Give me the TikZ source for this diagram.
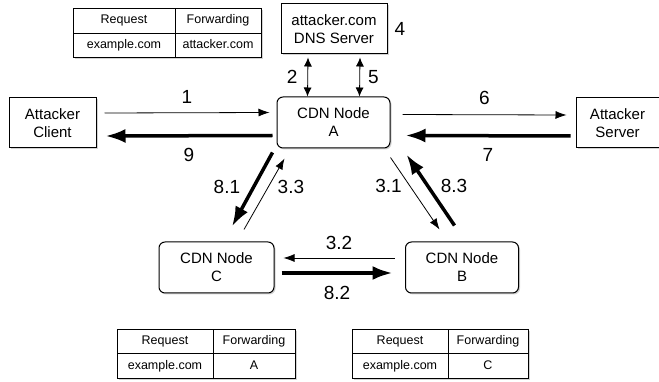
\documentclass[tikz,border=0pt]{standalone}
\usepackage{fontspec}
\setmainfont{Liberation Sans}
\usetikzlibrary{positioning,shadows,arrows.meta}

\tikzset{
  shade box/.style={drop shadow={shadow xshift=1.5pt,shadow yshift=-1.5pt,opacity=.35}},
  box/.style={draw,line width=1pt,fill=white,align=center,inner sep=0pt,
    font=\fontsize{15}{18}\selectfont,shade box},
  cdn/.style={box,rounded corners=6pt,minimum width=113pt,minimum height=51pt},
  cell/.style={draw,line width=.9pt,fill=white,inner sep=0pt,outer sep=0pt,
    minimum height=24.5pt,text height=9pt,text depth=2.5pt,
    font=\fontsize{12.5}{14}\selectfont,shade box},
  msg/.style={line width=.8pt,-{Latex[length=11pt,width=8pt]}},
  reply/.style={line width=3.5pt,-{Latex[length=20pt,width=14pt]}},
  query/.style={line width=.8pt,{Latex[length=9pt,width=8pt]}-{Latex[length=9pt,width=8pt]}},
  lbl/.style={font=\fontsize{19}{21}\selectfont,inner sep=3pt},
}

\begin{document}
\begin{tikzpicture}[x=1pt,y=-1pt]
\useasboundingbox (0,0) rectangle (659,382);

% hosts
\node[box,minimum width=87pt,minimum height=50pt] (client) at (52.5,123) {Attacker\\Client};
\node[box,minimum width=83pt,minimum height=50pt] (server) at (617.5,123) {Attacker\\Server};
\node[box,minimum width=106pt,minimum height=50pt] (dns) at (334,29) {attacker.com\\DNS Server};
\node[lbl,right=4pt of dns] (l4) {4};

% cdn nodes
\node[cdn] (A) at (333.5,122.5) {CDN Node\\A};
\node[cdn,minimum width=115pt] (C) at (216.5,267.5) {CDN Node\\C};
\node[cdn] (B) at (462,267.5) {CDN Node\\B};

% forwarding tables
\node[cell,minimum width=102pt,anchor=north west] (treq) at (73,8.5) {Request};
\node[cell,minimum width=86pt,right=0pt of treq] (tfwd) {Forwarding};
\node[cell,minimum width=102pt,below=0pt of treq] (tdom) {example.com};
\node[cell,minimum width=86pt,below=0pt of tfwd] (tval) {attacker.com};

\node[cell,minimum width=96pt,anchor=north west] (creq) at (117,329) {Request};
\node[cell,minimum width=82pt,right=0pt of creq] (cfwd) {Forwarding};
\node[cell,minimum width=96pt,below=0pt of creq] (cdom) {example.com};
\node[cell,minimum width=82pt,below=0pt of cfwd] (cval) {A};

\node[cell,minimum width=96pt,anchor=north west] (breq) at (352,329) {Request};
\node[cell,minimum width=80pt,right=0pt of breq] (bfwd) {Forwarding};
\node[cell,minimum width=96pt,below=0pt of breq] (bdom) {example.com};
\node[cell,minimum width=80pt,below=0pt of bfwd] (bval) {C};

% client <-> A <-> server
\draw[msg] ([shift={(8,-10)}]client.east) -- node[lbl,above=6pt] (l1) {1} ([shift={(-7,-10)}]A.west);
\draw[reply] ([shift={(-4,13)}]A.west) -- node[lbl,below=8pt] (l9) {9} ([shift={(9,13)}]client.east);
\draw[msg] ([shift={(12,-8)}]A.east) -- node[lbl,above=7pt] (l6) {6} ([shift={(-9,-8)}]server.west);
\draw[reply] ([shift={(-5,13)}]server.west) -- node[lbl,below=8pt] (l7) {7} ([shift={(15,13)}]A.east);

% dns lookups
\draw[query] ([shift={(-26,3)}]dns.south) -- node[lbl,left=7pt] (l2) {2} ([shift={(-26,0)}]A.north);
\draw[query] ([shift={(26,3)}]dns.south) -- node[lbl,right=5pt] (l5) {5} ([shift={(26,0)}]A.north);

% forwarding loop
\draw[msg] ([shift={(0,9)}]A.south east) -- node[lbl,pos=.4,left=5pt] (l31) {3.1} ([shift={(34.5,-12)}]B.north west);
\draw[msg] ([shift={(-10.5,-9.5)}]B.west) -- node[lbl,above=5pt] (l32) {3.2} ([shift={(9,-9.5)}]C.east);
\draw[msg] ([shift={(27.5,-12)}]C.north) -- node[lbl,pos=.6,right=6pt] (l33) {3.3} ([shift={(8,10)}]A.south west);
\draw[reply] ([shift={(-4,4)}]A.south west) -- node[lbl,pos=.46,left=9pt] (l81) {8.1} ([shift={(15.5,-15)}]C.north);
\draw[reply] ([shift={(7,5.5)}]C.east) -- node[lbl,below=8pt] (l82) {8.2} ([shift={(-12.5,5.5)}]B.west);
\draw[reply] ([shift={(49.5,-16)}]B.north west) -- node[lbl,pos=.55,right=8pt] (l83) {8.3} ([shift={(16,6)}]A.south east);
\end{tikzpicture}
\end{document}
